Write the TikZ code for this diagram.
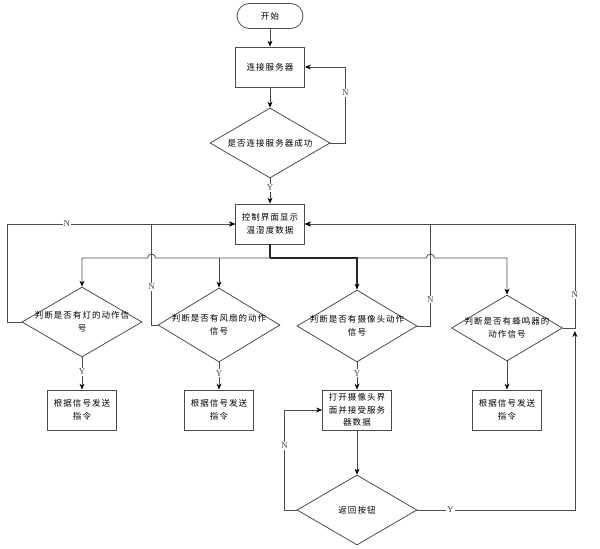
\documentclass[tikz,border=0pt]{standalone}
\usepackage{fontspec}
\setmainfont{Liberation Serif}
\newfontfamily\cjk[LetterSpace=12]{Noto Sans CJK SC}
\usetikzlibrary{shapes.geometric,calc,arrows.meta}
\colorlet{ln}{black!70}
\begin{document}
\begin{tikzpicture}[>={Stealth[length=6pt,width=5pt,color=black]},x=1pt,y=-1pt,line width=0.8pt,
	every node/.style={font=\cjk\fontsize{8.5}{13}\selectfont,align=center},
	term/.style={draw=ln,rounded corners=12.5pt,minimum width=66pt,minimum height=25pt},
	box/.style={draw=ln,minimum width=69pt,minimum height=40pt,inner sep=1pt},
	decision/.style={draw=ln,diamond,minimum width=120pt,minimum height=70pt,inner sep=0pt},
	yn/.style={font=\fontsize{9}{9}\selectfont,fill=white,inner sep=1pt}]
	\useasboundingbox (0,0) rectangle (600,549);
	% Knoten
	\node[term] (start) at (270,16) {开始};
	\node[box] (conn) at (270,67) {连接服务器};
	\node[decision,label={center:是否连接服务器成功}] (ifconn) at (270,143) {};
	\node[box] (ctrl) at (270,224) {控制界面显示\\温湿度数据};
	\node[decision,label={center:判断是否有灯的动作信\\号}] (dlamp) at (82,322) {};
	\node[decision,minimum width=122pt,minimum height=74pt,label={center:判断是否有风扇的动作\\信号}] (dfan) at (219,325) {};
	\node[decision,minimum height=72pt,label={center:判断是否有摄像头动作\\信号}] (dcam) at (357,326) {};
	\node[decision,minimum width=111pt,minimum height=66pt,label={center:判断是否有蜂鸣器的\\动作信号}] (dbuzz) at (507,328) {};
	\node[box] (slamp) at (82,410) {根据信号发送\\指令};
	\node[box] (sfan) at (219,410) {根据信号发送\\指令};
	\node[box,font=\cjk\fontsize{8.5}{12.5}\selectfont] (ocam) at (357,410) {打开摄像头界\\面并接受服务\\器数据};
	\node[box] (sbuzz) at (507,410) {根据信号发送\\指令};
	\node[decision,label={center:返回按钮}] (dback) at (357,510) {};
	% Hilfspunkte
	\coordinate (bus) at (270,258);
	\coordinate (nlamp) at ($(dlamp.west)+(-14,0)$);
	\coordinate (nfan) at ($(dfan.west)+(-6,0)$);
	\coordinate (ncam) at ($(dcam.east)+(13,0)$);
	\coordinate (nbuzz) at ($(dbuzz.east)+(12,0)$);
	% Verbindungen
	\draw[ln,->] (start) -- (conn);
	\draw[ln,->] (conn) -- (ifconn);
	\draw[ln,->] (ifconn.east) -- ++(15,0) |- node[yn,pos=0.33]{N} (conn.east);
	\draw[ln,->] (ifconn) -- node[yn,pos=0.38]{Y} (ctrl);
	\draw[black!85,line width=1.1pt] (ctrl) -- (bus);
	\draw[black!85,line width=1.1pt,->] (bus) -| (dcam.north);
	\draw[ln,->] (bus) -- ($(nfan|-bus)+(4,0)$) arc[start angle=0,end angle=-180,radius=4] -| (dlamp.north);
	\draw[ln,->] (dfan.north|-bus) -- (dfan.north);
	\draw[ln,->] (dcam.north|-bus) -- ($(ncam|-bus)+(-4,0)$) arc[start angle=180,end angle=360,radius=4] -| (dbuzz.north);
	\draw[ln,->] (dlamp.west) -- (nlamp) |- node[yn,pos=0.63]{N} (ctrl.west);
	\draw[ln,->] (dfan.west) -- (nfan) |- node[yn,pos=0.19]{N} (ctrl.west);
	\draw[ln,->] (dcam.east) -- (ncam) |- node[yn,pos=0.13]{N} (ctrl.east);
	\draw[ln,->] (dbuzz.east) -- (nbuzz) |- node[yn,pos=0.16]{N} (ctrl.east);
	\draw[ln,->] (dlamp) -- node[yn,pos=0.45]{Y} (slamp);
	\draw[ln,->] (dfan) -- node[yn,pos=0.4]{Y} (sfan);
	\draw[ln,->] (dcam) -- node[yn,pos=0.4]{Y} (ocam);
	\draw[ln,->] (dbuzz) -- (sbuzz);
	\draw[ln,->] (ocam) -- (dback);
	\draw[ln,->] (dback.west) -- ++(-12,0) |- node[yn,pos=0.32]{N} (ocam.west);
	\draw[ln,->,shorten >=3pt] (dback.east) -| node[yn,pos=0.105]{Y} (nbuzz);
\end{tikzpicture}
\end{document}
